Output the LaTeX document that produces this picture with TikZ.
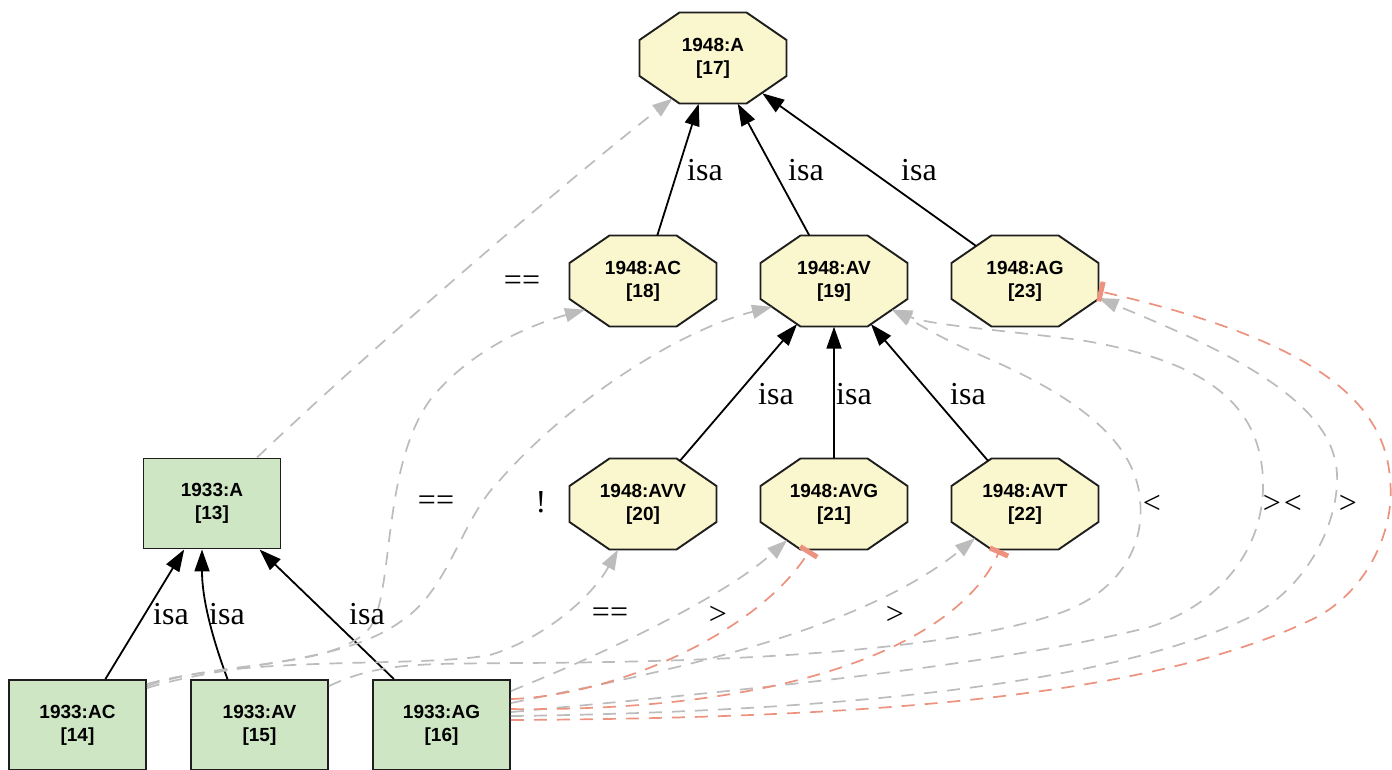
\documentclass[tikz,border=0pt]{standalone}
\usepackage{fontspec}
\setmainfont{Liberation Serif}
\setsansfont{Liberation Sans}
\usetikzlibrary{arrows.meta}

\definecolor{octfill}{RGB}{250,246,205}
\definecolor{boxfill}{RGB}{207,230,196}
\definecolor{nodeline}{RGB}{30,30,30}
\definecolor{relgray}{RGB}{188,188,188}
\definecolor{negred}{RGB}{236,146,126}

\pgfdeclarelayer{background}
\pgfsetlayers{background,main}

\newcommand\nodefont{\sffamily\bfseries\fontsize{19}{23}\selectfont}
\newcommand\labfont{\rmfamily\fontsize{32}{36}\selectfont}

% octagon outline around a named node (half sizes 73.5 x 45.5, chamfer 40 x 27.5)
\newcommand\octagonfor[1]{%
  \filldraw[octline]
    ([shift={(-33.5,-45.5)}]#1.center) -- ([shift={(33.5,-45.5)}]#1.center)
    -- ([shift={(73.5,-18)}]#1.center) -- ([shift={(73.5,18)}]#1.center)
    -- ([shift={(33.5,45.5)}]#1.center) -- ([shift={(-33.5,45.5)}]#1.center)
    -- ([shift={(-73.5,18)}]#1.center) -- ([shift={(-73.5,-18)}]#1.center) -- cycle;}

\tikzset{
  octa/.style={rectangle, minimum width=147pt, minimum height=91pt,
    inner sep=0pt, align=center, font=\nodefont,
    execute at begin node={\rule{0pt}{21.5pt}}},
  octline/.style={draw=nodeline, line width=1.9pt, fill=octfill, line join=miter},
  gbox/.style={rectangle, draw=nodeline, line width=1.9pt, fill=boxfill,
    minimum width=137pt, minimum height=90pt, inner sep=0pt,
    align=center, font=\nodefont,
    execute at begin node={\rule{0pt}{18.5pt}}},
  isa/.style={draw=black, line width=1.8pt, -{Triangle[length=22pt,width=15pt]}},
  rel/.style={draw=relgray, line width=1.7pt, dash pattern=on 13pt off 10pt,
    -{Triangle[length=20pt,width=14pt]}},
  neg/.style={draw=negred, line width=1.7pt, dash pattern=on 13pt off 10pt,
    -{Rectangle[length=5pt,width=20pt]}},
  lab/.style={font=\labfont, inner sep=0pt}
}

\begin{document}
\begin{tikzpicture}[x=1pt,y=-1pt]
\useasboundingbox (0,0) rectangle (1392,770);

% 1948 hierarchy
\node[octa] (n17) at (713,58)   {1948:A\\{[17]}};
\node[octa] (n18) at (643,281)  {1948:AC\\{[18]}};
\node[octa] (n19) at (834,281)  {1948:AV\\{[19]}};
\node[octa] (n23) at (1025,281) {1948:AG\\{[23]}};
\node[octa] (n20) at (643,504)  {1948:AVV\\{[20]}};
\node[octa] (n21) at (834,504)  {1948:AVG\\{[21]}};
\node[octa] (n22) at (1025,504) {1948:AVT\\{[22]}};
\begin{pgfonlayer}{background}
  \fill[white] (0,0) rectangle (1392,770);
  \octagonfor{n17}\octagonfor{n18}\octagonfor{n19}\octagonfor{n23}
  \octagonfor{n20}\octagonfor{n21}\octagonfor{n22}
\end{pgfonlayer}

% 1933 hierarchy
\node[gbox] (n13) at (212,503.5) {1933:A\\{[13]}};
\node[gbox] (n14) at (77.5,725)  {1933:AC\\{[14]}};
\node[gbox] (n15) at (259.5,725) {1933:AV\\{[15]}};
\node[gbox] (n16) at (441.5,725) {1933:AG\\{[16]}};

% isa links
\draw[isa] (n18) -- (n17);
\draw[isa] (n19) -- (n17);
\draw[isa] ([shift={(-49.3,-35.3)}]n23.center) -- ([shift={(49.3,35.3)}]n17.center);
\draw[isa] ([shift={(36.9,-43.1)}]n20.center) -- ([shift={(-36.9,43.1)}]n19.center);
\draw[isa] (n21) -- (n19);
\draw[isa] ([shift={(-36.9,-43.1)}]n22.center) -- ([shift={(36.9,43.1)}]n19.center);
\draw[isa] (n14) -- (n13);
\draw[isa] ([xshift=-32pt]n15.north) .. controls (213,640) and (202,600) .. ([xshift=-10pt]n13.south);
\draw[isa] (n16) -- (n13);

% mapping links
\draw[rel] ([xshift=45pt]n13.north) .. controls (380,340) and (580,170) .. ([shift={(-40.6,40.6)}]n17.center);
\draw[rel] ([yshift=-7pt]n14.north east) .. controls (220,660) and (330,670) .. (368,630)
  .. controls (395,600) and (380,470) .. (430,400)
  .. controls (470,350) and (530,325) .. ([shift={(-58,28.7)}]n18.center);
\draw[rel] ([yshift=-9pt]n14.north east) .. controls (230,662) and (340,665) .. (400,622)
  .. controls (450,590) and (460,520) .. (500,480)
  .. controls (570,400) and (680,330) .. ([shift={(-62,25.9)}]n19.center);
\draw[rel] ([yshift=-5pt]n14.north east) .. controls (250,655) and (420,668) .. (490,655)
  .. controls (540,640) and (590,600) .. ([xshift=-25pt]n20.south);
\draw[rel] ([yshift=-7pt]n15.north east) .. controls (380,662) and (420,664) .. (520,663)
  .. controls (750,662) and (950,650) .. (1060,613)
  .. controls (1120,592) and (1145,545) .. (1140,500)
  .. controls (1135,430) and (1050,385) .. (980,355)
  .. controls (940,338) and (915,322) .. ([shift={(58,28.7)}]n19.center);
\draw[rel] ([yshift=-12pt]n16.north east) .. controls (600,655) and (720,600) .. ([shift={(-47,36.2)}]n21.center);
\draw[rel] ([yshift=-24pt]n16.north east) .. controls (620,680) and (850,640) .. ([shift={(-50,34.2)}]n22.center);
\draw[rel] ([yshift=-33pt]n16.north east) .. controls (750,690) and (1000,665) .. (1150,627)
  .. controls (1230,600) and (1265,540) .. (1263,480)
  .. controls (1260,400) and (1200,360) .. (1080,340)
  .. controls (1000,330) and (930,325) .. ([shift={(58,28.7)}]n19.center);
\draw[rel] ([yshift=-37pt]n16.north east) .. controls (800,712) and (1100,690) .. (1250,617)
  .. controls (1320,580) and (1345,500) .. (1335,460)
  .. controls (1320,390) and (1200,340) .. ([shift={(73.5,17)}]n23.center);

% conflicting links
\draw[neg] ([yshift=-20pt]n16.north east) .. controls (620,695) and (760,630) .. ([xshift=-24pt]n21.south);
\draw[neg] ([yshift=-30pt]n16.north east) .. controls (800,712) and (960,640) .. ([xshift=-25pt]n22.south);
\draw[neg] ([yshift=-41pt]n16.north east) .. controls (850,718) and (1150,700) .. (1317,617)
  .. controls (1375,585) and (1395,520) .. (1390,480)
  .. controls (1385,390) and (1290,335) .. ([shift={(73.5,10)}]n23.center);

% labels
\node[lab] (i1) at (705,170) {isa};
\node[lab] (i2) at (806,170) {isa};
\node[lab] (i3) at (919,170) {isa};
\node[lab] (i4) at (776,394) {isa};
\node[lab] (i5) at (854,394) {isa};
\node[lab] (i6) at (968,394) {isa};
\node[lab] (i7) at (171,614) {isa};
\node[lab] (i8) at (227,614) {isa};
\node[lab] (i9) at (367,614) {isa};

\node[lab] (m1) at (522,283) {==};
\node[lab] (m2) at (436,503) {==};
\node[lab] (m3) at (541,502) {!};
\node[lab] (m4) at (610,615) {==};
\node[lab] (m5) at (718,615) {>};
\node[lab] (m6) at (895,615) {>};
\node[lab] (m7) at (1152,504) {<};
\node[lab] (m8) at (1272,504) {>};
\node[lab] (m9) at (1293,504) {<};
\node[lab] (m10) at (1348,504) {>};
\end{tikzpicture}
\end{document}
